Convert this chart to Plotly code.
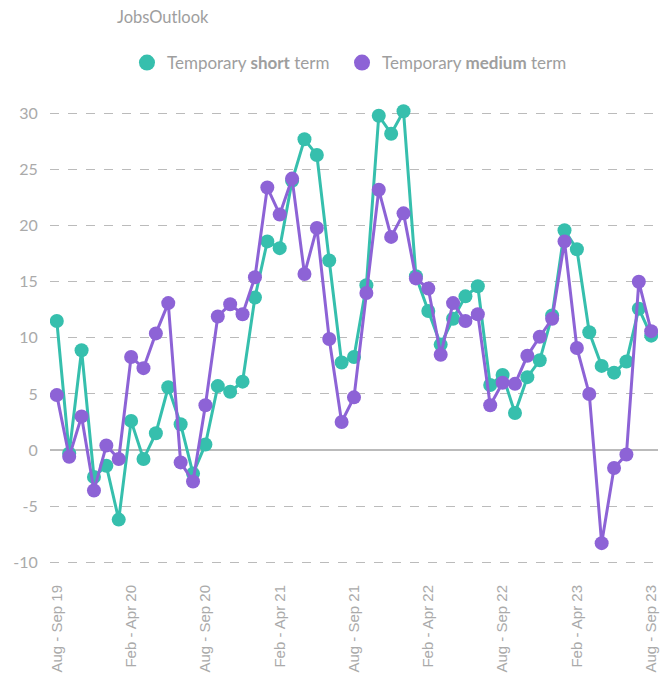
import plotly.graph_objects as go

tick_labels = ["Aug - Sep 19", "Feb - Apr 20", "Aug - Sep 20", "Feb - Apr 21", "Aug - Sep 21",
               "Feb - Apr 22", "Aug - Sep 22", "Feb - Apr 23", "Aug - Sep 23"]
x_index = list(range(49))
tick_positions = [0, 6, 12, 18, 24, 30, 36, 42, 48]
y_ticks = [-10, -5, 0, 5, 10, 15, 20, 25, 30]
y_tick_text = ["-10", "-5", "0", "5", "10", "15", "20", "25", "30"]

short_term = [11.5, -0.3, 8.9, -2.4, -1.4, -6.2, 2.6, -0.8, 1.5, 5.6,
              2.3, -2.1, 0.5, 5.7, 5.2, 6.1, 13.6, 18.6, 18.0, 24.0,
              27.7, 26.3, 16.9, 7.8, 8.3, 14.7, 29.8, 28.2, 30.2, 15.5,
              12.4, 9.4, 11.7, 13.7, 14.6, 5.8, 6.7, 3.3, 6.5, 8.0,
              12.0, 19.6, 17.9, 10.5, 7.5, 6.9, 7.9, 12.6, 10.2]
medium_term = [4.9, -0.6, 3.0, -3.6, 0.4, -0.8, 8.3, 7.3, 10.4, 13.1,
               -1.1, -2.8, 4.0, 11.9, 13.0, 12.1, 15.4, 23.4, 21.0, 24.2,
               15.7, 19.8, 9.9, 2.5, 4.7, 14.0, 23.2, 19.0, 21.1, 15.3,
               14.4, 8.5, 13.1, 11.5, 12.1, 4.0, 6.0, 5.9, 8.4, 10.1,
               11.7, 18.6, 9.1, 5.0, -8.3, -1.6, -0.4, 15.0, 10.6]

teal = "#36bfad"
purple = "#8d63d6"

fig = go.Figure()
fig.add_trace(go.Scatter(x=x_index, y=short_term, mode="lines+markers",
                         line=dict(color=teal, width=3),
                         marker=dict(color=teal, size=14, symbol="circle"),
                         showlegend=False))
fig.add_trace(go.Scatter(x=x_index, y=medium_term, mode="lines+markers",
                         line=dict(color=purple, width=3),
                         marker=dict(color=purple, size=14, symbol="circle"),
                         showlegend=False))
# legend entries (marker only)
fig.add_trace(go.Scatter(x=[None], y=[None], mode="markers", name="Temporary <b>short</b> term",
                         marker=dict(color=teal, size=18), legend="legend"))
fig.add_trace(go.Scatter(x=[None], y=[None], mode="markers", name="Temporary <b>medium</b> term",
                         marker=dict(color=purple, size=18), legend="legend2"))

legend_font = dict(family="Lato", size=17, color="#9e9e9e")
fig.update_layout(
    width=660, height=678,
    margin=dict(l=50, r=2, t=95, b=106, autoexpand=False),
    plot_bgcolor="white", paper_bgcolor="white",
    font=dict(family="Lato", color="#999999"),
    showlegend=True,
    legend=dict(orientation="h", x=0.1266, xanchor="left", y=1.067, yanchor="middle",
                font=legend_font),
    legend2=dict(orientation="h", x=0.4803, xanchor="left", y=1.067, yanchor="middle",
                 font=legend_font),
    xaxis=dict(range=[-0.55, 48.55], tickmode="array", tickvals=tick_positions,
               ticktext=tick_labels, tickangle=-90, showgrid=False, zeroline=False,
               showline=False, ticks="outside", ticklen=6, tickcolor="rgba(0,0,0,0)",
               automargin=False, ticklabeloverflow="allow",
               tickfont=dict(family="Liberation Sans", size=15, color="#aaaaaa")),
    yaxis=dict(range=[-10.87, 31.65], tickmode="array", tickvals=y_ticks, ticktext=y_tick_text,
               showgrid=True, gridcolor="#bbbbbb", griddash="dash", gridwidth=1,
               zeroline=True, zerolinecolor="#bbbbbb", zerolinewidth=1.5,
               showline=False, ticks="outside", ticklen=8, tickcolor="rgba(0,0,0,0)",
               automargin=False,
               tickfont=dict(family="Lato", size=16, color="#aaaaaa")),
    annotations=[dict(text="JobsOutlook", xref="paper", yref="paper", x=0.107, y=1.1635,
                      xanchor="left", yanchor="middle", showarrow=False,
                      font=dict(family="Lato", size=16.5, color="#9e9e9e"))],
)

fig.write_html("out.html", config={"displayModeBar": False},
               post_script="document.body.style.margin='0';document.body.style.overflow='hidden';")
